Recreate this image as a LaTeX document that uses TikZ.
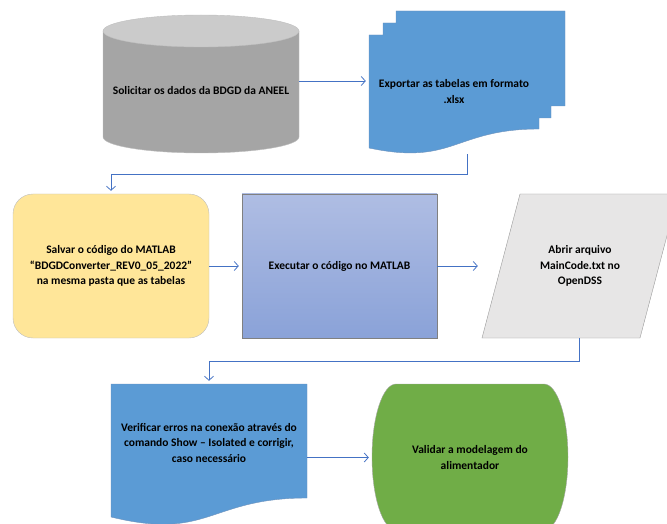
\documentclass[tikz,border=0pt]{standalone}
\usepackage{fontspec}
\setmainfont{Carlito}
\usetikzlibrary{positioning, calc, arrows.meta}
\usepackage{xcolor}
\definecolor{xgray}{HTML}{A5A5A5}
\definecolor{xgraytop}{HTML}{CBCBCB}
\definecolor{xgrayline}{HTML}{BFBFBF}
\definecolor{xblue}{HTML}{5B9BD5}
\definecolor{xblueline}{HTML}{6F93BC}
\definecolor{xyellow}{HTML}{FFE699}
\definecolor{xlight}{HTML}{E7E6E6}
\definecolor{xgreen}{HTML}{70AD47}
\definecolor{xtop}{HTML}{AFBDE3}
\definecolor{xbottom}{HTML}{8AA2D8}
\definecolor{xline}{HTML}{4472C4}
\tikzset{
	txt/.style={align=center, inner sep=0pt, font=\fontsize{11.5}{15.5}\selectfont\bfseries},
	conn/.style={draw=xline, line width=0.8pt, -{Straight Barb[length=4pt,width=9pt]}, shorten >=3pt},
}

\begin{document}
\begin{tikzpicture}[x=1pt, y=-1pt]
			\useasboundingbox (0,0) rectangle (667,524);

			\fill[xgray, draw=xgrayline] (103,31) -- (103,137) arc[start angle=180, end angle=360, x radius=98pt, y radius=16pt] -- (299,31) -- cycle;
			\filldraw[fill=xgraytop, draw=xgrayline] (201,31) ellipse[x radius=98pt, y radius=16pt];
			\node[txt, minimum width=196pt] (sol) at (201,91) {Solicitar os dados da BDGD da ANEEL};

			\filldraw[fill=xblue, draw=xblueline, thin] (369,35) -- (383,35) -- (383,23) -- (396,23) -- (396,11) -- (565,11) -- (565,106) -- (551,106) -- (551,118) -- (539,118) -- (539,129)
				.. controls (454,129) and (454,166) .. (369,148) -- cycle;
			\node[txt, minimum width=170pt, minimum height=125pt] (exp) at (454,91.5) {Exportar as tabelas em formato\\.xlsx};

			\node[txt, minimum width=196pt, minimum height=144pt, rounded corners=20pt, fill=xyellow, draw=xgrayline] (sal) at (111,266) {Salvar o código do MATLAB\\“BDGDConverter\_REV0\_05\_2022”\\na mesma pasta que as tabelas};
			\node[txt, minimum width=195pt, minimum height=144pt, top color=xtop, bottom color=xbottom, draw=gray] (exe) at (339.5,266) {Executar o código no MATLAB};

			\filldraw[fill=xlight, draw=gray!80] (520,194) -- (678,194) -- (640,338) -- (482,338) -- cycle;
			\node[txt, minimum width=198pt, minimum height=144pt] (abr) at (580,266) {Abrir arquivo\\MainCode.txt no\\OpenDSS};

			\filldraw[fill=xblue, draw=xblueline, thin] (111,384) -- (307,384) -- (307,498) .. controls (209,498) and (209,541) .. (111,517) -- cycle;
			\node[txt, minimum width=196pt, minimum height=117pt] (ver) at (209,442.5) {Verificar erros na conexão através do\\comando Show – Isolated e corrigir,\\caso necessário};

			\filldraw[fill=xgreen, draw=gray!70] (396,384) -- (544,384) arc[start angle=90, end angle=-90, x radius=24pt, y radius=73pt] -- (396,530) arc[start angle=270, end angle=90, x radius=24pt, y radius=73pt] -- cycle;
			\node[txt, minimum width=196pt] (val) at (470,457.5) {Validar a modelagem do\\alimentador};

			\draw[conn] ([yshift=10pt]sol.east) -- ([yshift=10pt]sol.east -| exp.west);
			\draw[conn] ([xshift=13pt]exp.south) -- ++(0,20) -| (sal.north);
			\draw[conn] (sal.east) -- (exe.west);
			\draw[conn] (exe.east) -- (abr.west);
			\draw[conn] ([xshift=-1pt]abr.south) -- ++(0,23) -| (ver.north);
			\draw[conn] (val.west -| ver.east) -- (val.west);
		\end{tikzpicture}
\end{document}
